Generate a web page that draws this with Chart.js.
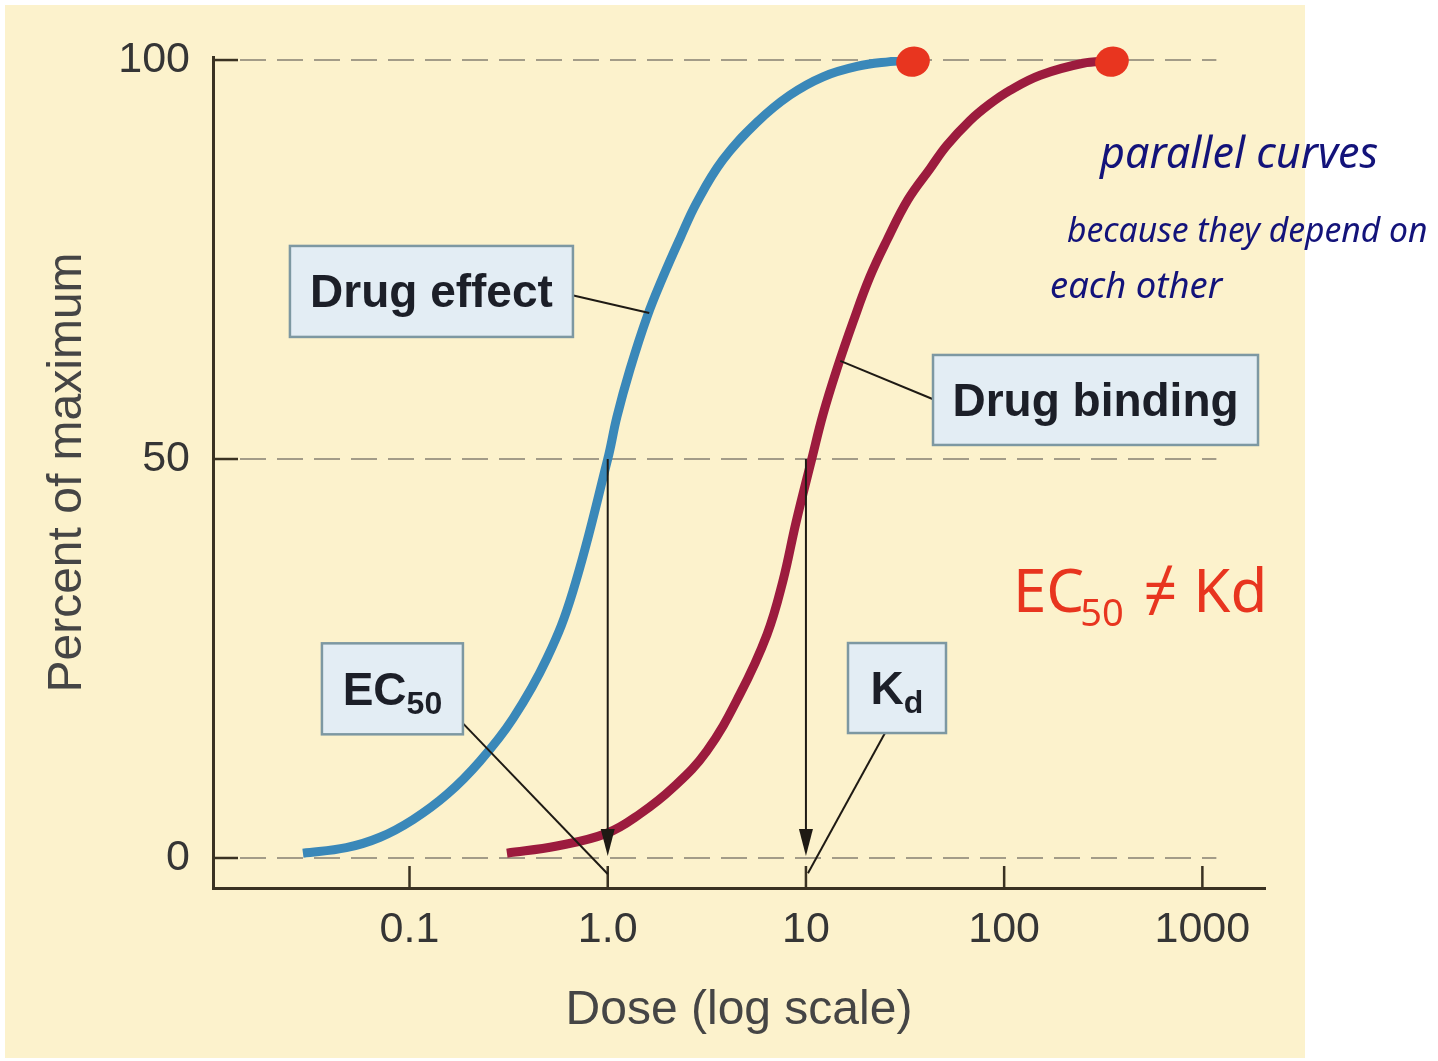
<!DOCTYPE html>
<html lang="en">
<head>
    <meta charset="UTF-8">
    <title>Drug effect vs drug binding</title>
    <script src="https://cdn.jsdelivr.net/npm/chart.js"></script>
    <style>
        html, body {
            margin: 0;
            padding: 0;
            background: #ffffff;
        }
        canvas {
            display: block;
        }
    </style>
</head>
<body>
    <canvas id="doseChart" width="1438" height="1061"></canvas>

    <script>
        // values (dose on a log axis, percent of maximum)
        const effectDose = [0.029, 0.048, 0.071, 0.104, 0.155, 0.226, 0.333, 0.493, 0.667, 1.0,
                            1.113, 1.294, 1.578, 1.899, 2.31, 2.82, 3.81, 5.66, 8.30, 12.2,
                            18.1, 26.5, 31];
        const effectPct = [0.6, 1.3, 2.6, 4.8, 8.0, 12.1, 17.5, 25.0, 33.4, 50,
                           55.3, 61.2, 67.8, 72.8, 77.6, 82.2, 87.5, 92.2, 95.6, 97.9,
                           99.2, 99.8, 99.9];

        const bindingDose = [0.31, 0.554, 0.99, 1.45, 2.13, 3.16, 4.64, 6.36, 7.65, 8.9, 10.7,
                             12.2, 14.3, 17.3, 21.0, 25.6, 32.7, 42.3, 51.4, 67.1, 84.7,
                             107, 152, 250, 340];
        const bindingPct = [0.6, 1.5, 3.1, 5.5, 8.8, 13.4, 20.5, 28.0, 34.7, 42.0, 50,
                            55.6, 61.2, 67.2, 72.8, 77.4, 82.5, 86.4, 89.3, 92.4, 94.5,
                            96.2, 98.1, 99.6, 99.9];

        const doseTicks = [0.1, 1, 10, 100, 1000];
        const doseTickLabels = ['0.1', '1.0', '10', '100', '1000'];
        const pctTicks = [0, 50, 100];
        const pctTickLabels = ['0', '50', '100'];

        const ec50 = 1.0;
        const kd = 10;
        const curveEnds = [34.7, 350];   // red marker dots drawn over the curve tops

        const AXIS = '#3a3222';
        const GRID = '#a39c88';
        const BLUE = '#3a88b9';
        const RED = '#9c1b3e';
        const INK = '#13137a';
        const MARKER = '#e8351f';
        const SANS = '"Liberation Sans", Arial, sans-serif';

        function toPoints(xs, ys) {
            return xs.map((x, i) => ({ x: x, y: ys[i] }));
        }

        function line(ctx, x1, y1, x2, y2) {
            ctx.beginPath();
            ctx.moveTo(x1, y1);
            ctx.lineTo(x2, y2);
            ctx.stroke();
        }

        function labelBox(ctx, cx, cy, w, h, parts) {
            ctx.save();
            ctx.fillStyle = '#e3edf4';
            ctx.strokeStyle = '#7d98a2';
            ctx.lineWidth = 2.5;
            ctx.fillRect(cx - w / 2, cy - h / 2, w, h);
            ctx.strokeRect(cx - w / 2, cy - h / 2, w, h);
            // parts: [text, size, drop]
            let total = 0;
            parts.forEach(p => {
                ctx.font = 'bold ' + p[1] + 'px ' + SANS;
                total += ctx.measureText(p[0]).width;
            });
            let x = cx - total / 2;
            ctx.fillStyle = '#1c1f28';
            ctx.textBaseline = 'alphabetic';
            parts.forEach(p => {
                ctx.font = 'bold ' + p[1] + 'px ' + SANS;
                ctx.fillText(p[0], x, cy + 16 + p[2]);
                x += ctx.measureText(p[0]).width;
            });
            ctx.restore();
        }

        function scribble(ctx, text, x, baseline, width, color) {
            ctx.font = 'italic 40px "Noto Sans", sans-serif';
            const size = 40 * width / ctx.measureText(text).width;
            ctx.font = 'italic ' + size.toFixed(1) + 'px "Noto Sans", sans-serif';
            ctx.fillStyle = color;
            ctx.textBaseline = 'alphabetic';
            ctx.fillText(text, x, baseline);
        }

        const figurePlugin = {
            id: 'figure',
            beforeDraw(chart) {
                const ctx = chart.ctx;
                ctx.save();
                ctx.fillStyle = '#ffffff';
                ctx.fillRect(0, 0, chart.width, chart.height);
                ctx.fillStyle = '#fcf2cc';
                ctx.fillRect(5, 5, 1300, 1053);
                ctx.restore();
            },
            beforeDatasetsDraw(chart) {
                const ctx = chart.ctx;
                const xs = chart.scales.x;
                const ys = chart.scales.y;
                const left = chart.chartArea.left;
                const bottom = chart.chartArea.bottom;
                ctx.save();
                pctTicks.forEach(v => {
                    const py = ys.getPixelForValue(v);
                    ctx.setLineDash([26, 11]);
                    ctx.strokeStyle = GRID;
                    ctx.lineWidth = 2;
                    line(ctx, left + 27, py, xs.getPixelForValue(doseTicks[doseTicks.length - 1]) + 14, py);
                    ctx.setLineDash([]);
                    ctx.strokeStyle = AXIS;
                    ctx.lineWidth = 2.5;
                    line(ctx, left, py, left + 25, py);
                });
                ctx.strokeStyle = AXIS;
                ctx.lineWidth = 2.5;
                doseTicks.forEach(v => {
                    const px = xs.getPixelForValue(v);
                    line(ctx, px, bottom, px, bottom - 22);
                });
                ctx.restore();
            },
            afterDatasetsDraw(chart) {
                const ctx = chart.ctx;
                const xs = chart.scales.x;
                const ys = chart.scales.y;
                const X = v => xs.getPixelForValue(v);
                const Y = v => ys.getPixelForValue(v);
                ctx.save();

                // arrows from the 50 % points down to the dose axis
                ctx.strokeStyle = '#1e1a14';
                ctx.fillStyle = '#1e1a14';
                ctx.lineWidth = 2;
                [ec50, kd].forEach(d => {
                    const px = X(d);
                    const tip = Y(0) - 2;
                    line(ctx, px, Y(50), px, tip - 20);
                    ctx.beginPath();
                    ctx.moveTo(px, tip);
                    ctx.lineTo(px - 7, tip - 27);
                    ctx.lineTo(px + 7, tip - 27);
                    ctx.closePath();
                    ctx.fill();
                });

                // leader lines
                ctx.lineWidth = 2;
                line(ctx, X(0.129) + 142, Y(71.0) + 4, X(1.62), Y(68.3));
                line(ctx, X(289) - 163, Y(57.4) - 1, X(14.9), Y(62.3));
                line(ctx, X(0.082) + 71, Y(21.2) + 35, X(ec50), Y(-2.0));
                line(ctx, X(28.8) - 12, Y(21.3) + 45, X(kd) + 2, Y(-1.9));

                // label boxes
                labelBox(ctx, X(0.129), Y(71.0), 283, 91, [['Drug effect', 46, 0]]);
                labelBox(ctx, X(289), Y(57.4), 325, 90, [['Drug binding', 46, 0]]);
                labelBox(ctx, X(0.082), Y(21.2), 141, 91, [['EC', 46, 0], ['50', 32, 9]]);
                labelBox(ctx, X(28.8), Y(21.3), 98, 90, [['K', 46, 0], ['d', 32, 9]]);

                // handwritten notes
                ctx.fillStyle = MARKER;
                curveEnds.forEach(d => {
                    ctx.beginPath();
                    ctx.ellipse(X(d), Y(99.8), 17, 15, -0.3, 0, Math.PI * 2);
                    ctx.fill();
                });
                scribble(ctx, 'parallel curves', 1100, 168, 278, INK);
                scribble(ctx, 'because they depend on', 1067, 242, 361, INK);
                scribble(ctx, 'each other', 1050, 298, 172, INK);

                ctx.font = '60px "Noto Sans", sans-serif';
                ctx.fillStyle = MARKER;
                ctx.fillText('EC', 1013, 612);
                let w = ctx.measureText('EC').width;
                ctx.font = '38px "Noto Sans", sans-serif';
                ctx.fillText('50', 1013 + w - 4, 626);
                w += ctx.measureText('50').width;
                ctx.font = '60px "Noto Sans", sans-serif';
                ctx.fillText(' \u2260 Kd', 1013 + w, 612);

                ctx.restore();
            }
        };

        const tickFont = { family: SANS, size: 43 };
        const titleFont = { family: SANS, size: 48 };

        new Chart(document.getElementById('doseChart').getContext('2d'), {
            type: 'line',
            data: {
                datasets: [{
                    label: 'Drug effect',
                    data: toPoints(effectDose, effectPct),
                    borderColor: BLUE,
                    borderWidth: 9,
                    borderCapStyle: 'butt',
                    borderJoinStyle: 'round',
                    pointRadius: 0,
                    tension: 0.4,
                    fill: false
                }, {
                    label: 'Drug binding',
                    data: toPoints(bindingDose, bindingPct),
                    borderColor: RED,
                    borderWidth: 9,
                    borderCapStyle: 'butt',
                    borderJoinStyle: 'round',
                    pointRadius: 0,
                    tension: 0.4,
                    fill: false
                }]
            },
            options: {
                responsive: false,
                animation: false,
                devicePixelRatio: 1,
                layout: { padding: { left: 0, right: 173, top: 57, bottom: 0 } },
                plugins: {
                    legend: { display: false },
                    tooltip: { enabled: false }
                },
                scales: {
                    x: {
                        type: 'logarithmic',
                        min: 0.0102,
                        max: 2070,
                        afterBuildTicks: s => { s.ticks = doseTicks.map(v => ({ value: v })); },
                        afterFit: s => { s.height = 173; },
                        ticks: {
                            callback: (v, i) => doseTickLabels[i],
                            font: tickFont,
                            color: '#353535',
                            padding: 16,
                            autoSkip: false,
                            maxRotation: 0
                        },
                        grid: { display: false, drawTicks: false },
                        border: { color: AXIS, width: 3 },
                        title: {
                            display: true,
                            text: 'Dose (log scale)',
                            font: titleFont,
                            color: '#454545',
                            padding: { top: 0, bottom: 21 }
                        }
                    },
                    y: {
                        type: 'linear',
                        min: -3.76,
                        max: 100.38,
                        afterBuildTicks: s => { s.ticks = pctTicks.map(v => ({ value: v })); },
                        afterFit: s => { s.width = 213; },
                        ticks: {
                            callback: (v, i) => pctTickLabels[i],
                            font: tickFont,
                            color: '#353535',
                            padding: 23,
                            autoSkip: false
                        },
                        grid: { display: false, drawTicks: false },
                        border: { color: AXIS, width: 3 },
                        title: {
                            display: true,
                            text: 'Percent of maximum',
                            font: titleFont,
                            color: '#454545',
                            padding: { top: 39, bottom: 0 }
                        }
                    }
                }
            },
            plugins: [figurePlugin]
        });
    </script>
</body>
</html>
